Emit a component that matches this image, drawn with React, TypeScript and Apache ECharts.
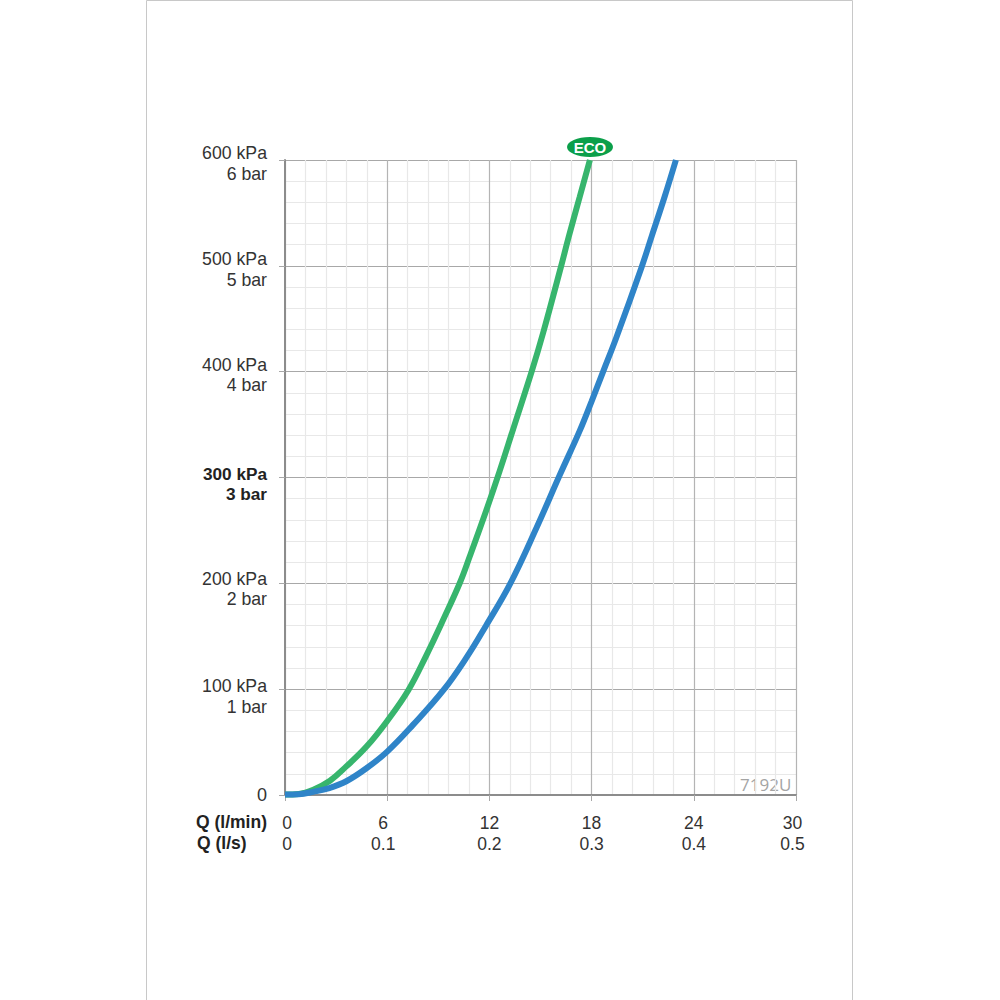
import React, { useEffect, useRef } from "react";
import * as echarts from "echarts";

const flowLpm = [0, 6, 12, 18, 24, 30];
const flowLps = ["0", "0.1", "0.2", "0.3", "0.4", "0.5"];
const pressureKpa = ["0", "100 kPa", "200 kPa", "300 kPa", "400 kPa", "500 kPa", "600 kPa"];
const pressureBar = ["", "1 bar", "2 bar", "3 bar", "4 bar", "5 bar", "6 bar"];
const ecoCurve: [number, number][] = [[0, 0.5], [0.8, 1], [1.66, 5], [2.64, 13.5], [3.6, 27], [4.8, 46], [6, 70], [7.24, 99], [8.3, 132], [9.3, 166], [10.28, 201], [10.86, 226], [11.84, 270], [12.6, 306], [13.4, 346], [14.48, 400], [15.16, 437], [16.2, 499], [16.65, 527], [17.3, 565], [17.9, 600]];
const stdCurve: [number, number][] = [[0, 0.5], [0.8, 0.8], [1.66, 3], [2.6, 6.5], [3.6, 13], [4.8, 25.5], [6, 41], [7.5, 66], [9.3, 99], [10.66, 130], [11.8, 160], [13.2, 199], [14.78, 253], [16.15, 303], [17.3, 344], [18, 372], [18.7, 401], [19.47, 433], [20.94, 499], [21.55, 529], [22.3, 566], [22.95, 600]];

const GRID = { left: 285, top: 160, width: 511, height: 635 };
const TEXT = "#333333";
const BOLD = "#222222";
const FONT = "'Liberation Sans', Arial, sans-serif";

export default function App() {
  const ref = useRef<HTMLDivElement>(null);
  useEffect(() => {
    const chart = echarts.init(ref.current!, undefined, { renderer: "svg" });
    const yRich = (top: number, bold: boolean) => ({
      fontFamily: FONT,
      fontSize: bold ? 17.2 : 17.7,
      lineHeight: 20.5,
      color: bold ? BOLD : TEXT,
      fontWeight: bold ? "bold" : "normal",
      align: "right",
      padding: [top, 0, 0, 0],
    });
    chart.setOption({
      animation: false,
      backgroundColor: "#ffffff",
      grid: GRID,
      xAxis: {
        type: "value",
        min: 0,
        max: 30,
        interval: 6,
        axisLine: { show: true, onZero: false, lineStyle: { color: "#8c8c8c", width: 2 } },
        axisTick: { show: true, length: 6, lineStyle: { color: "#a8a8a8", width: 1 } },
        axisLabel: {
          margin: 17,
          lineHeight: 21,
          fontFamily: FONT,
          fontSize: 17.5,
          color: TEXT,
          formatter: (v: number) => {
            const i = flowLpm.indexOf(v);
            const tag = i === 0 ? "l" : i === 1 ? "m" : i === 5 ? "r" : "n";
            return `{${tag}|${flowLpm[i]}}\n{${tag}|${flowLps[i]}}`;
          },
          rich: {
            n: { fontFamily: FONT, fontSize: 17.5, lineHeight: 21, color: TEXT },
            l: { fontFamily: FONT, fontSize: 17.5, lineHeight: 21, color: TEXT, padding: [0, 0, 0, 4] },
            m: { fontFamily: FONT, fontSize: 17.5, lineHeight: 21, color: TEXT, padding: [0, 8, 0, 0] },
            r: { fontFamily: FONT, fontSize: 17.5, lineHeight: 21, color: TEXT, padding: [0, 7, 0, 0] },
          },
        },
        splitLine: { show: true, lineStyle: { color: "#b4b4b4", width: 1.2 } },
        minorTick: { show: false, splitNumber: 5 },
        minorSplitLine: { show: true, lineStyle: { color: "#e8e8e8", width: 1.2 } },
      },
      yAxis: {
        type: "value",
        min: 0,
        max: 600,
        interval: 100,
        axisLine: { show: true, onZero: false, lineStyle: { color: "#8c8c8c", width: 2 } },
        axisTick: { show: true, length: 6, lineStyle: { color: "#a8a8a8", width: 1 } },
        axisLabel: {
          margin: 18,
          align: "right",
          fontFamily: FONT,
          fontSize: 18,
          color: TEXT,
          formatter: (v: number) => {
            const i = v / 100;
            if (i === 0) return pressureKpa[0];
            const tag = i === 3 ? "b" : i === 2 ? "p2" : i === 1 ? "p1" : "n";
            return `{${tag}|${pressureKpa[i]}}\n{${tag}|${pressureBar[i]}}`;
          },
          rich: {
            n: yRich(7, false),
            p1: yRich(15, false),
            p2: yRich(11, false),
            b: yRich(13, true),
          },
        },
        splitLine: { show: true, lineStyle: { color: "#a8a8a8", width: 1.2 } },
        minorTick: { show: false, splitNumber: 5 },
        minorSplitLine: { show: true, lineStyle: { color: "#e8e8e8", width: 1.2 } },
      },
      series: [
        { name: "ECO", type: "line", data: ecoCurve, smooth: 0.4, showSymbol: false, clip: false, lineStyle: { color: "#37b56d", width: 6 } },
        { name: "Standard", type: "line", data: stdCurve, smooth: 0.4, showSymbol: false, clip: false, lineStyle: { color: "#2f84c8", width: 6 } },
      ],
      graphic: [
        { type: "rect", silent: true, shape: { x: 146.5, y: 0.5, width: 706, height: 1010 }, style: { fill: "none", stroke: "#c8c8c8", lineWidth: 1 } },
        { type: "text", left: 196, top: 813, style: { text: "Q (l/min)", font: `bold 17.5px ${FONT}`, fill: BOLD } },
        { type: "text", left: 197, top: 834, style: { text: "Q (l/s)", font: `bold 17.5px ${FONT}`, fill: BOLD } },
        { type: "text", left: 740, top: 776, style: { text: "7192U", font: "17px 'Open Sans', sans-serif", fill: "#a4a4a4" } },
        { type: "ellipse", shape: { cx: 590, cy: 147, rx: 23, ry: 10 }, style: { fill: "#0b9f4a" } },
        { type: "text", x: 590, y: 147.5, style: { text: "ECO", font: `bold 15px ${FONT}`, fill: "#ffffff", align: "center", verticalAlign: "middle" } },
      ],
    });
    return () => chart.dispose();
  }, []);
  return <div ref={ref} style={{ position: "absolute", left: 0, top: 0, width: 1000, height: 1000 }} />;
}
